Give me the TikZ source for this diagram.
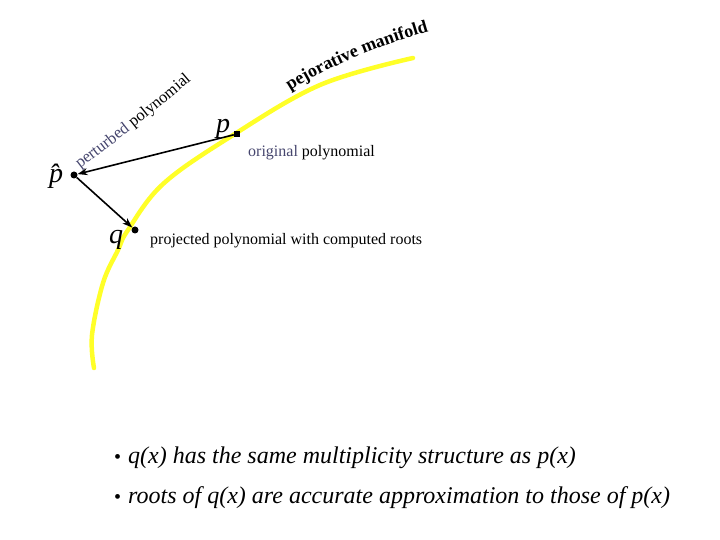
\documentclass[tikz,border=0pt]{standalone}
\usepackage{fontspec}
\setmainfont{Liberation Serif}
\usetikzlibrary{arrows.meta,decorations.text}
\definecolor{manifoldyellow}{RGB}{255,255,40}
\definecolor{labelgray}{RGB}{70,70,110}
\tikzset{
  ptdot/.style={circle,fill=black,inner sep=0pt,minimum size=7pt},
  ptsquare/.style={rectangle,fill=black,inner sep=0pt,minimum size=6pt},
  ptlabel/.style={font=\fontsize{28}{28}\selectfont\itshape,inner sep=0pt},
  caption/.style={font=\fontsize{16}{16}\selectfont,anchor=west,inner sep=0pt},
  bulletline/.style={font=\fontsize{24}{24}\selectfont,anchor=west,inner sep=0pt},
  projarrow/.style={-{Stealth[length=10pt,width=7pt]},line width=1.6pt}
}
\newcommand{\bulletmark}{{\fontsize{20}{20}\selectfont•}\hspace{7pt}}
\begin{document}
\begin{tikzpicture}[x=1pt,y=1pt]
\useasboundingbox (0,0) rectangle (720,540);
		\coordinate (orig) at (237,406);
		\coordinate (pert) at (74,365);
		\coordinate (proj) at (135,310);

		% the manifold
\draw [manifoldyellow,line width=4.5pt,line cap=round] plot [smooth,tension=0.6] coordinates {(94,172) (92,205) (103,257) (118,290) (128,310) (163,356) (230,403) (320,455) (413,482)};
\path [decorate,decoration={text along path,text align=left,
  text={|\fontsize{18}{18}\selectfont\bfseries|pejorative manifold}}]
  (290,449) .. controls (328,473) and (385,498) .. (445,513);
\path [decorate,decoration={text along path,text align=left,
  text={|\fontsize{16.5}{16.5}\selectfont\color{labelgray}|perturbed |+\color{black}|polynomial}}]
  (80,371) .. controls (118,400) and (160,432) .. (210,476);

		% points
\node [ptsquare] (p) at (orig) {};
\node [ptdot] (phat) at (pert) {};
\node [ptdot] (q) at (proj) {};
\node [ptlabel] (plabel) at (223,411) {p};
\node [ptlabel] (phatlabel) at (56,364) {p̂};
\node [ptlabel] (qlabel) at (116,300) {q};

\draw [projarrow] (p) -- (phat);
\draw [projarrow] (phat) -- (q);

\node [caption] (origtext) at (248,387) {\textcolor{labelgray}{original} polynomial};
\node [caption] (projtext) at (150,299) {projected polynomial with computed roots};

\node [bulletline] (first) at (114,82) {\bulletmark\textit{q(x) has the same multiplicity structure as p(x)}};
\node [bulletline] (second) at (114,42) {\bulletmark\textit{roots of q(x) are accurate approximation to those of p(x)}};
\end{tikzpicture}
\end{document}
